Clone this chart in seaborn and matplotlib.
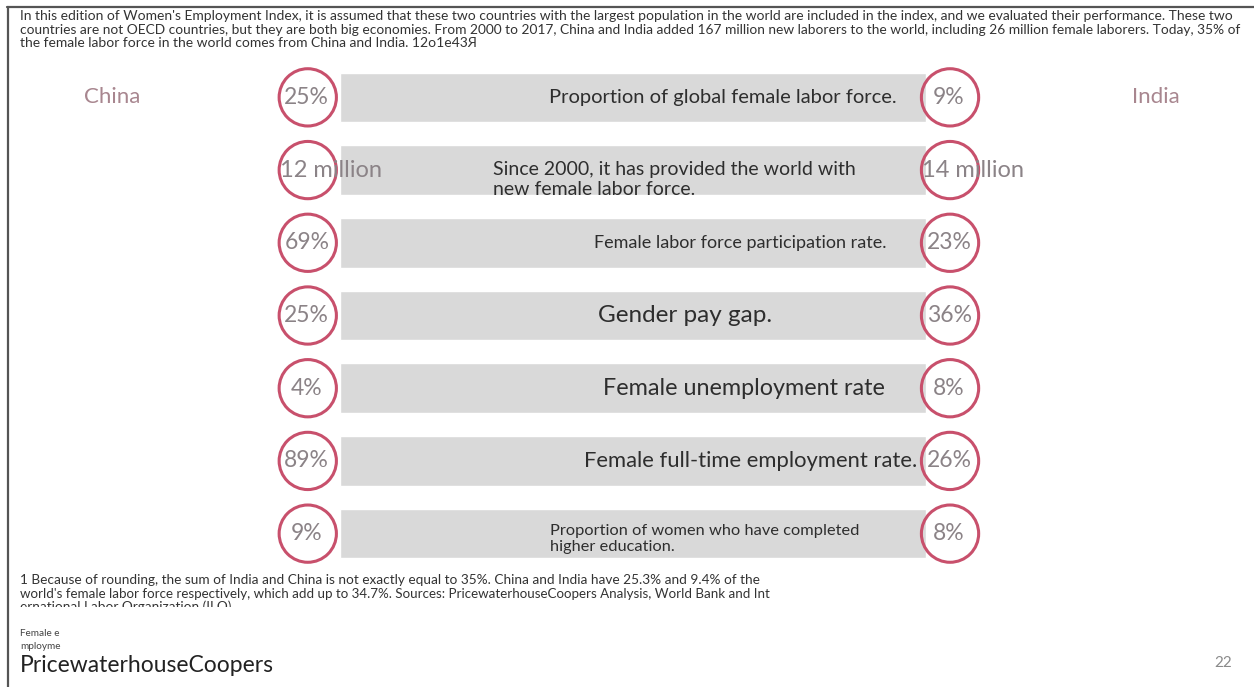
import matplotlib
matplotlib.use("Agg")
import matplotlib.pyplot as plt
from matplotlib.lines import Line2D
import seaborn as sns
import pandas as pd

# ---- data -------------------------------------------------------------
metrics = [
    "Proportion of global female labor force.",
    "Since 2000, it has provided the world with\nnew female labor force.",
    "Female labor force participation rate.",
    "Gender pay gap.",
    "Female unemployment rate",
    "Female full-time employment rate.",
    "Proportion of women who have completed\nhigher education.",
]
china_values = ["25%", "12 million", "69%", "25%", "4%", "89%", "9%"]
india_values = ["9%", "14 million", "23%", "36%", "8%", "26%", "8%"]
countries = ["China", "India"]
track = [1, 1, 1, 1, 1, 1, 1]

intro_lines = [
    "In this edition of Women's Employment Index, it is assumed that these two countries with the largest population in the world are included in the index, and we evaluated their performance. These two",
    "countries are not OECD countries, but they are both big economies. From 2000 to 2017, China and India added 167 million new laborers to the world, including 26 million female laborers. Today, 35% of",
    "the female labor force in the world comes from China and India. 12o1e43Я",
]
note_lines = [
    "1 Because of rounding, the sum of India and China is not exactly equal to 35%. China and India have 25.3% and 9.4% of the",
    "world's female labor force respectively, which add up to 34.7%. Sources: PricewaterhouseCoopers Analysis, World Bank and Int",
    "ernational Labor Organization (ILO).",
]
side_notes = ["Female e", "mployme"]
source = "PricewaterhouseCoopers"
page = "22"

# ---- style ------------------------------------------------------------
sns.set_theme(style="white")
plt.rcParams["font.family"] = ["Lato", "DejaVu Sans"]

W, H = 1254, 687
fig = plt.figure(figsize=(W / 100, H / 100), dpi=100)
fig.patch.set_facecolor("white")

TRACK = "#d9d9d9"
RING = "#c8506c"
VALUE = "#8b8387"
COUNTRY = "#a8868f"
INK = "#2e2e2e"


def fx(px):
    return px / W


def fy(py):
    return 1 - py / H


# main panel: one grey track per metric, rings sit just outside both ends
left_px, right_px = 340, 926
top_px, bottom_px = 61, 570
ax = fig.add_axes([fx(left_px), fy(bottom_px), fx(right_px - left_px),
                   (bottom_px - top_px) / H])

df = pd.DataFrame({"metric": metrics, "track": track})
sns.barplot(data=df, x="track", y="metric", orient="h", color=TRACK,
            saturation=1, width=0.68, ax=ax, zorder=1)

side_pos = {"China": -0.055, "India": 1.041}
rings = pd.DataFrame({
    "metric": metrics * 2,
    "country": ["China"] * len(metrics) + ["India"] * len(metrics),
    "value": china_values + india_values,
})
rings["x"] = rings["country"].map(side_pos)
sns.scatterplot(data=rings, x="x", y="metric", s=1700, marker="o",
                facecolor="none", edgecolor=RING, linewidth=2.2,
                ax=ax, legend=False, zorder=3, clip_on=False)
ax.set_xlim(0, 1)
ax.set_ylim(len(metrics) - 0.5, -0.5)
ax.set_axis_off()

for _, r in rings.iterrows():
    if "million" in r["value"]:
        ax.annotate(r["value"], (r["x"], r["metric"]), xytext=(-28, 0),
                    textcoords="offset pixels", ha="left", va="center",
                    fontsize=17, color=VALUE, zorder=4,
                    annotation_clip=False)
    else:
        ax.annotate(r["value"], (r["x"], r["metric"]), xytext=(-1, 0),
                    textcoords="offset pixels", ha="center", va="center",
                    fontsize=16.5, color=VALUE, zorder=4,
                    annotation_clip=False)

# metric captions inside the grey tracks
caption_style = [
    dict(x=0.950, ha="right", size=14.5, dy=0.0, ls=1.0),
    dict(x=0.261, ha="left", size=14.0, dy=0.13, ls=1.25),
    dict(x=0.933, ha="right", size=13.0, dy=0.0, ls=1.0),
    dict(x=0.589, ha="center", size=17.5, dy=0.0, ls=1.0),
    dict(x=0.930, ha="right", size=16.8, dy=0.0, ls=1.0),
    dict(x=0.985, ha="right", size=15.8, dy=0.0, ls=1.0),
    dict(x=0.358, ha="left", size=11.8, dy=0.07, ls=1.2),
]
for i, (text, st) in enumerate(zip(metrics, caption_style)):
    ax.text(st["x"], i + st["dy"], text, ha=st["ha"], va="center",
            fontsize=st["size"], color=INK, linespacing=st["ls"],
            multialignment="left", zorder=2)

# country headers
fig.text(fx(112), fy(97), countries[0], ha="center", va="center",
         fontsize=16, color=COUNTRY)
fig.text(fx(1156), fy(97), countries[1], ha="center", va="center",
         fontsize=16, color=COUNTRY)

# intro paragraph
intro = [fig.text(fx(20), fy(16 + 13.5 * i), line, ha="left", va="center",
                  fontsize=7.6, color="#333333")
         for i, line in enumerate(intro_lines)]

# footnote, last line cut off by the slide edge
notes = [fig.text(fx(20), fy(580 + 13.5 * i), line, ha="left", va="center",
                  fontsize=7.6, color="#333333", zorder=1)
         for i, line in enumerate(note_lines)]
fig.patches.append(plt.Rectangle((fx(12), fy(624)), fx(1000), (624 - 607) / H,
                                 transform=fig.transFigure, facecolor="white",
                                 edgecolor="none", zorder=5))

for i, line in enumerate(side_notes):
    fig.text(fx(20), fy(633 + 13.5 * i), line, ha="left", va="center",
             fontsize=7.2, color="#444444")

fig.text(fx(20), fy(665), source, ha="left", va="center",
         fontsize=16.5, color="#222222")
fig.text(fx(1232), fy(663), page, ha="right", va="center",
         fontsize=11, color="#8a8a8a")

# slide frame
fig.add_artist(Line2D([fx(7), 1], [fy(7), fy(7)], color="#555555",
                      linewidth=1.6, transform=fig.transFigure))
fig.add_artist(Line2D([fx(8), fx(8)], [fy(7), 0], color="#555555",
                      linewidth=1.6, transform=fig.transFigure))

# fit the long paragraph lines to their printed width
fig.canvas.draw()
renderer = fig.canvas.get_renderer()
for t, target in [(intro[0], 1215), (intro[1], 1215), (notes[0], 740), (notes[1], 750)]:
    w = t.get_window_extent(renderer).width
    t.set_fontsize(t.get_fontsize() * target / w)
intro[2].set_fontsize(intro[0].get_fontsize())
notes[2].set_fontsize(notes[0].get_fontsize())

fig.savefig("out.png", dpi=100, facecolor="white")
